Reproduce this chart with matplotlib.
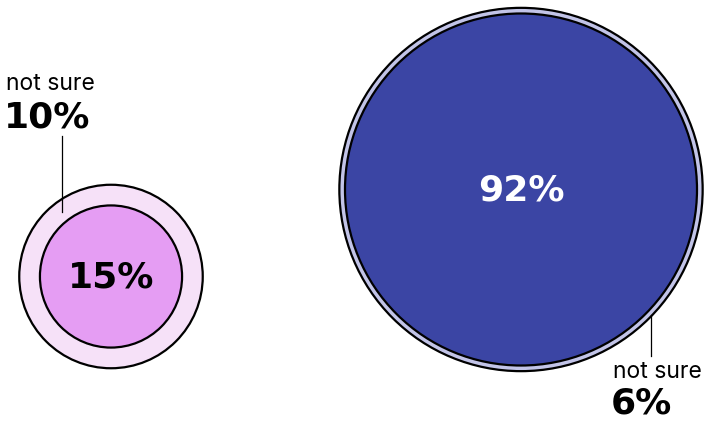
import numpy as np
import matplotlib.pyplot as plt
from matplotlib.patches import Circle

# data
groups = ['left', 'right']
yes_pct = [15, 92]
unsure_pct = [10, 6]
unsure_label = 'not sure'

# layout (pixel coords)
centers = [(111, 276.5), (521, 189.5)]
scale = 18.35  # px radius per sqrt(percent)
outer_colors = ['#f6e1f8', '#c2c4e8']
inner_colors = ['#e59df3', '#3b45a4']
center_text_colors = ['black', 'white']

fig = plt.figure(figsize=(7.06, 4.23), dpi=100)
ax = fig.add_axes([0, 0, 1, 1])
ax.set_xlim(0, 706)
ax.set_ylim(423, 0)
ax.set_aspect('equal')
ax.axis('off')

big_font = dict(family='DejaVu Sans', weight='heavy', fontsize=26)
small_font = dict(family='Inter', fontsize=16.5)

for i in range(len(groups)):
    cx, cy = centers[i]
    r_out = scale * np.sqrt(yes_pct[i] + unsure_pct[i])
    r_in = scale * np.sqrt(yes_pct[i])
    ax.add_patch(Circle((cx, cy), r_out, facecolor=outer_colors[i],
                        edgecolor='black', lw=1.6))
    ax.add_patch(Circle((cx, cy), r_in, facecolor=inner_colors[i],
                        edgecolor='black', lw=1.6))
    ax.text(cx, cy + 1, f'{yes_pct[i]}%', ha='center', va='center',
            color=center_text_colors[i], **big_font)

# left annotation (above)
ax.plot([62, 62], [136, 212], color='black', lw=0.9)
ax.text(6, 84, unsure_label, ha='left', va='center', **small_font)
ax.text(4, 117, f'{unsure_pct[0]}%', ha='left', va='center', **big_font)

# right annotation (below)
ax.plot([651, 651], [315, 356], color='black', lw=0.9)
ax.text(613, 372, unsure_label, ha='left', va='center', **small_font)
ax.text(611, 404, f'{unsure_pct[1]}%', ha='left', va='center', **big_font)

plt.savefig('out.png', dpi=100)
